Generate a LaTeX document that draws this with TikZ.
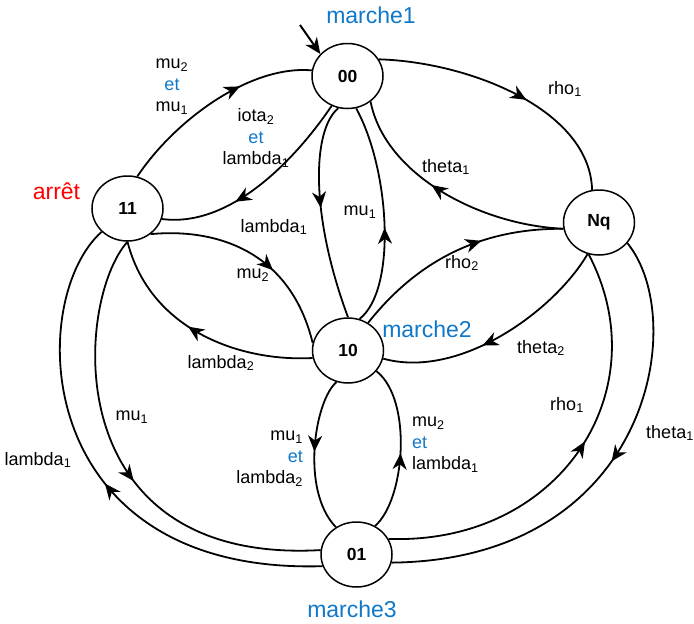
\documentclass[tikz,border=0pt]{standalone}
\usepackage{fontspec}
\setmainfont{Liberation Sans}
\usetikzlibrary{arrows.meta,shapes.geometric,decorations.markings}
\definecolor{MarcheBlue}{RGB}{16,120,200}
\definecolor{ArretRed}{RGB}{255,0,0}
\newcommand{\etb}{\textcolor{MarcheBlue}{et}}

\begin{document}
\begin{tikzpicture}[x=1pt, y=-1pt,
  etat/.style={draw, ellipse, line width=1.5pt, minimum width=71pt,
               minimum height=65pt, inner sep=0pt,
               font=\fontsize{17.5}{20}\selectfont\bfseries},
  trans/.style={line width=1.8pt, postaction={decorate, decoration={markings,
               mark=at position #1 with {\arrow{Stealth[length=16pt,width=14pt,inset=5pt]}}}}},
  trans/.default=0.5,
  lbl/.style={font=\fontsize{18}{21.5}\selectfont, align=center, inner sep=0pt},
  big/.style={font=\fontsize{23}{26}\selectfont, inner sep=0pt}]
  \useasboundingbox (0,0) rectangle (694,624);

  \node[etat] (n00) at (347.5,76) {00};
  \node[etat] (n11) at (127.5,208.5) {11};
  \node[etat] (nNq) at (599,222.5) {Nq};
  \node[etat] (n10) at (348,350.5) {10};
  \node[etat] (n01) at (356.5,554.5) {01};

  \node[big, text=MarcheBlue] (m1) at (371,15) {marche1};
  \node[big, text=ArretRed] (ar) at (56.5,191) {arrêt};
  \node[big, text=MarcheBlue] (m2) at (427,329) {marche2};
  \node[big, text=MarcheBlue] (m3) at (352,609) {marche3};

  \coordinate (init) at (300,25);
  \draw[-{Stealth[length=16pt,width=14pt,inset=5pt]}, line width=2pt] (init) -- (n00.141);

  \draw[trans=0.65] (n11.73) .. controls (175,120) and (250,65) .. (n00.171);
  \draw[trans=0.64] (n00.242) .. controls (295,160) and (230,228) .. (n11.343);
  \draw[trans=0.48] (n00.254) .. controls (312,130) and (310,215) .. (n10.90);
  \draw[trans=0.44] (n10.70) .. controls (397,290) and (390,170) .. (n00.285);
  \draw[trans=0.57] (n00.28) .. controls (470,62) and (590,110) .. (nNq.102);
  \draw[trans=0.57] (nNq.190) .. controls (480,225) and (385,175) .. (n00.312);
  \draw[trans=0.63] (n10.54) .. controls (410,270) and (470,228) .. (nNq.190);
  \draw[trans=0.58] (nNq.250) .. controls (555,310) and (460,380) .. (n10.347);
  \draw[trans=0.61] (n11.312) .. controls (215,228) and (290,250) .. (n10.168);
  \draw[trans=0.55] (n10.192) .. controls (240,362) and (150,330) .. (n11.270);
  \draw[trans=0.55] (n11.270) .. controls (75,300) and (55,565) .. (n01.173);
  \draw[trans=0.47] (n01.199) .. controls (30,575) and (25,300) .. (n11.222);
  \draw[trans=0.48] (n10.250) .. controls (315,400) and (300,490) .. (n01.127);
  \draw[trans=0.47] (n01.57) .. controls (405,500) and (413,400) .. (n10.324);
  \draw[trans=0.54] (n01.26) .. controls (560,545) and (660,390) .. (nNq.252);
  \draw[trans=0.48] (nNq.324) .. controls (690,320) and (650,560) .. (n01.347);

  \node[lbl] (l1) at (172,87) {mu\textsubscript{2}\\\etb\\mu\textsubscript{1}};
  \node[lbl] (l2) at (256,138) {iota\textsubscript{2}\\\etb\\lambda\textsubscript{1}};
  \node[lbl] (l3) at (274,227) {lambda\textsubscript{1}};
  \node[lbl] (l4) at (360,212) {mu\textsubscript{1}};
  \node[lbl] (l5) at (565,89) {rho\textsubscript{1}};
  \node[lbl] (l6) at (446,167) {theta\textsubscript{1}};
  \node[lbl] (l7) at (462,263) {rho\textsubscript{2}};
  \node[lbl] (l8) at (541,348) {theta\textsubscript{2}};
  \node[lbl] (l9) at (253,275) {mu\textsubscript{2}};
  \node[lbl] (l10) at (221,363) {lambda\textsubscript{2}};
  \node[lbl] (l11) at (132,417) {mu\textsubscript{1}};
  \node[lbl] (l12) at (38,460) {lambda\textsubscript{1}};
  \node[lbl, align=right, anchor=east] (l13) at (303,459) {mu\textsubscript{1}\\\etb\\lambda\textsubscript{2}};
  \node[lbl, align=left, anchor=west] (l14) at (412,445) {mu\textsubscript{2}\\\etb\\lambda\textsubscript{1}};
  \node[lbl] (l15) at (567,405) {rho\textsubscript{1}};
  \node[lbl] (l16) at (670,433) {theta\textsubscript{1}};
\end{tikzpicture}
\end{document}
